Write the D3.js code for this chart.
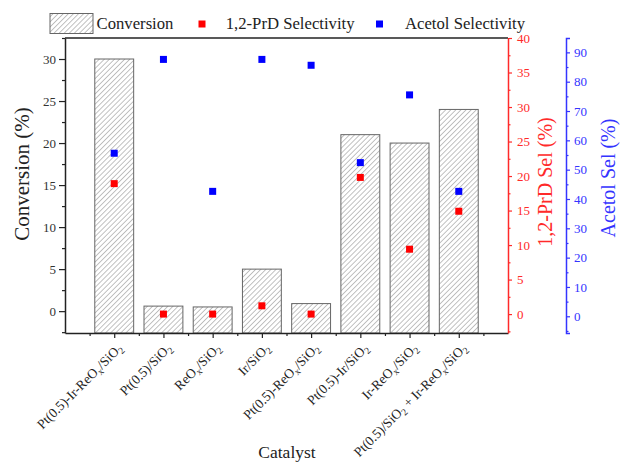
<!DOCTYPE html>
<html><head><meta charset="utf-8">
<script src="https://cdn.jsdelivr.net/npm/d3@7"></script>
<style>body{margin:0;background:#fff}svg{display:block}</style>
</head><body>
<svg id="chart" width="621" height="463"></svg>
<script>
// Catalyst names; "_" marks a one-character subscript
const categories = [
  "Pt(0.5)-Ir-ReO_x/SiO_2",
  "Pt(0.5)/SiO_2",
  "ReO_x/SiO_2",
  "Ir/SiO_2",
  "Pt(0.5)-ReO_x/SiO_2",
  "Pt(0.5)-Ir/SiO_2",
  "Ir-ReO_x/SiO_2",
  "Pt(0.5)/SiO_2 + Ir-ReO_x/SiO_2"
];
const conversion = [30, 0.6, 0.5, 5, 0.9, 21, 20, 24];
const prdSelectivity = [18.9, 0, 0, 1.2, 0, 19.8, 9.4, 14.9];
const acetolSelectivity = [55.6, 87.6, 42.6, 87.6, 85.6, 52.4, 75.5, 42.6];

const convTicks = [0, 5, 10, 15, 20, 25, 30];
const convMinor = [-2.5, 2.5, 7.5, 12.5, 17.5, 22.5, 27.5, 32.5];
const prdTicks = [0, 5, 10, 15, 20, 25, 30, 35, 40];
const prdMinor = [-2.5, 2.5, 7.5, 12.5, 17.5, 22.5, 27.5, 32.5, 37.5];
const acetolTicks = [0, 10, 20, 30, 40, 50, 60, 70, 80, 90];
const acetolMinor = [-5, 5, 15, 25, 35, 45, 55, 65, 75, 85];

const legendLabels = ["Conversion", "1,2-PrD Selectivity", "Acetol Selectivity"];

const FONT = "'Liberation Serif', 'Times New Roman', serif";
const RED = "#ff2a2a";
const BLUE = "#3434ff";
const INK = "#222";

const svg = d3.select("#chart");
const L = 65, R = 508, T = 38, B = 333;

const x = d3.scaleLinear().domain([0, categories.length + 1]).range([L, R]);
const yConv = d3.scaleLinear().domain([-2.6, 32.5]).range([B, T]);
const yPrd = d3.scaleLinear().domain([-2.74, 40]).range([B, T]);
const yAce = d3.scaleLinear().domain([-5.7, 94.9]).range([B, T]);

// hatch pattern for the conversion bars
const defs = svg.append("defs");
defs.append("pattern")
  .attr("id", "hatch")
  .attr("patternUnits", "userSpaceOnUse")
  .attr("width", 3.6).attr("height", 3.6)
  .attr("patternTransform", "rotate(45)")
  .append("line")
  .attr("x1", 0).attr("y1", 0).attr("x2", 0).attr("y2", 3.6)
  .attr("stroke", "#777").attr("stroke-width", 0.9);

// bars
const bw = x(0.79) - x(0);
svg.append("g").selectAll("rect")
  .data(conversion)
  .join("rect")
  .attr("x", (d, i) => x(i + 1) - bw / 2)
  .attr("y", d => yConv(d))
  .attr("width", bw)
  .attr("height", d => B - yConv(d))
  .attr("fill", "url(#hatch)")
  .attr("stroke", "#666")
  .attr("stroke-width", 1);

// selectivity markers
const ms = 7;
svg.append("g").selectAll("rect")
  .data(acetolSelectivity)
  .join("rect")
  .attr("x", (d, i) => x(i + 1) - ms / 2)
  .attr("y", d => yAce(d) - ms / 2)
  .attr("width", ms).attr("height", ms)
  .attr("fill", "#0000ff");
svg.append("g").selectAll("rect")
  .data(prdSelectivity)
  .join("rect")
  .attr("x", (d, i) => x(i + 1) - ms / 2)
  .attr("y", d => yPrd(d) - ms / 2)
  .attr("width", ms).attr("height", ms)
  .attr("fill", "#ff0000");

function styleAxis(g, color, size) {
  g.select(".domain").attr("stroke", color).attr("stroke-width", 1.5);
  g.selectAll(".tick line").attr("stroke", color).attr("stroke-width", 1.2);
  g.selectAll(".tick text").attr("fill", color).attr("font-family", FONT).attr("font-size", size);
}

// left axis (conversion)
const gL = svg.append("g").attr("transform", `translate(${L},0)`)
  .call(d3.axisLeft(yConv).tickValues(convTicks).tickSize(6).tickSizeOuter(0).tickPadding(3));
styleAxis(gL, INK, 13);
gL.selectAll(".tick text").attr("fill", "#333");
const gLm = svg.append("g").attr("transform", `translate(${L},0)`)
  .call(d3.axisLeft(yConv).tickValues(convMinor).tickSize(3).tickFormat(""));
gLm.select(".domain").remove();
gLm.selectAll(".tick line").attr("stroke", INK).attr("stroke-width", 1.2);

// top frame
svg.append("line").attr("x1", L).attr("x2", R).attr("y1", T).attr("y2", T)
  .attr("stroke", INK).attr("stroke-width", 1.5);

// bottom axis
const xMajor = d3.range(1, categories.length + 1);
const xMinor = d3.range(0.5, categories.length + 1, 1);
const gB = svg.append("g").attr("transform", `translate(0,${B})`)
  .call(d3.axisBottom(x).tickValues(xMajor).tickSize(5).tickSizeOuter(0).tickFormat(""));
styleAxis(gB, INK, 13);
const gBm = svg.append("g").attr("transform", `translate(0,${B})`)
  .call(d3.axisBottom(x).tickValues(xMinor).tickSize(3).tickFormat(""));
gBm.select(".domain").remove();
gBm.selectAll(".tick line").attr("stroke", INK).attr("stroke-width", 1.2);

// red axis (1,2-PrD selectivity)
const gR = svg.append("g").attr("transform", `translate(${R},0)`)
  .call(d3.axisRight(yPrd).tickValues(prdTicks).tickSize(4).tickSizeOuter(0).tickPadding(5));
styleAxis(gR, RED, 13);
const gRm = svg.append("g").attr("transform", `translate(${R},0)`)
  .call(d3.axisRight(yPrd).tickValues(prdMinor).tickSize(2.5).tickFormat(""));
gRm.select(".domain").remove();
gRm.selectAll(".tick line").attr("stroke", RED).attr("stroke-width", 1.2);

// blue axis (acetol selectivity)
const AX = 566;
const gA = svg.append("g").attr("transform", `translate(${AX},0)`)
  .call(d3.axisRight(yAce).tickValues(acetolTicks).tickSize(4).tickSizeOuter(4).tickPadding(4));
styleAxis(gA, BLUE, 13);
const gAm = svg.append("g").attr("transform", `translate(${AX},0)`)
  .call(d3.axisRight(yAce).tickValues(acetolMinor).tickSize(2.5).tickFormat(""));
gAm.select(".domain").remove();
gAm.selectAll(".tick line").attr("stroke", BLUE).attr("stroke-width", 1.2);

// category labels with subscripts
function addRich(textSel, str) {
  const parts = [];
  for (let k = 0; k < str.length; k++) {
    if (str[k] === "_" && k + 1 < str.length) {
      parts.push({ t: str[k + 1], sub: true });
      k++;
    } else {
      if (parts.length && !parts[parts.length - 1].sub) parts[parts.length - 1].t += str[k];
      else parts.push({ t: str[k], sub: false });
    }
  }
  let prevSub = false;
  parts.forEach(p => {
    const ts = textSel.append("tspan").text(p.t);
    if (p.sub) { ts.attr("dy", 3).attr("font-size", "0.72em"); }
    else if (prevSub) { ts.attr("dy", -3); }
    prevSub = p.sub;
  });
}
const catG = svg.append("g");
categories.forEach((c, i) => {
  const ax = x(i + 1) + 9, ay = B + 16;
  const t = catG.append("text")
    .attr("transform", `translate(${ax},${ay}) rotate(-45)`)
    .attr("text-anchor", "end")
    .attr("font-family", FONT).attr("font-size", 13.5).attr("fill", "#222");
  addRich(t, c);
});

// axis titles
svg.append("text").attr("transform", `translate(29,174) rotate(-90)`)
  .attr("text-anchor", "middle").attr("font-family", FONT).attr("font-size", 21)
  .attr("fill", "#222").text("Conversion (%)");
svg.append("text").attr("transform", `translate(552,182) rotate(-90)`)
  .attr("text-anchor", "middle").attr("font-family", FONT).attr("font-size", 20)
  .attr("fill", RED).text("1,2-PrD Sel (%)");
svg.append("text").attr("transform", `translate(615,178) rotate(-90)`)
  .attr("text-anchor", "middle").attr("font-family", FONT).attr("font-size", 20)
  .attr("fill", BLUE).text("Acetol Sel (%)");
svg.append("text").attr("x", 287).attr("y", 458)
  .attr("text-anchor", "middle").attr("font-family", FONT).attr("font-size", 17.5)
  .attr("fill", "#222").text("Catalyst");

// legend
const lg = svg.append("g");
lg.append("rect").attr("x", 50).attr("y", 13.5).attr("width", 43).attr("height", 20)
  .attr("fill", "url(#hatch)").attr("stroke", "#666").attr("stroke-width", 1);
lg.append("text").attr("x", 96.5).attr("y", 29).attr("font-family", FONT).attr("font-size", 16.7)
  .attr("fill", "#222").text(legendLabels[0]);
lg.append("rect").attr("x", 202 - 3.5).attr("y", 24 - 3.5).attr("width", 7).attr("height", 7).attr("fill", "#ff0000");
lg.append("text").attr("x", 225.7).attr("y", 29).attr("font-family", FONT).attr("font-size", 16.7)
  .attr("fill", "#222").text(legendLabels[1]);
lg.append("rect").attr("x", 379.5 - 3.5).attr("y", 24 - 3.5).attr("width", 7).attr("height", 7).attr("fill", "#0000ff");
lg.append("text").attr("x", 405).attr("y", 29).attr("font-family", FONT).attr("font-size", 16.7)
  .attr("fill", "#222").text(legendLabels[2]);
</script>
</body></html>
